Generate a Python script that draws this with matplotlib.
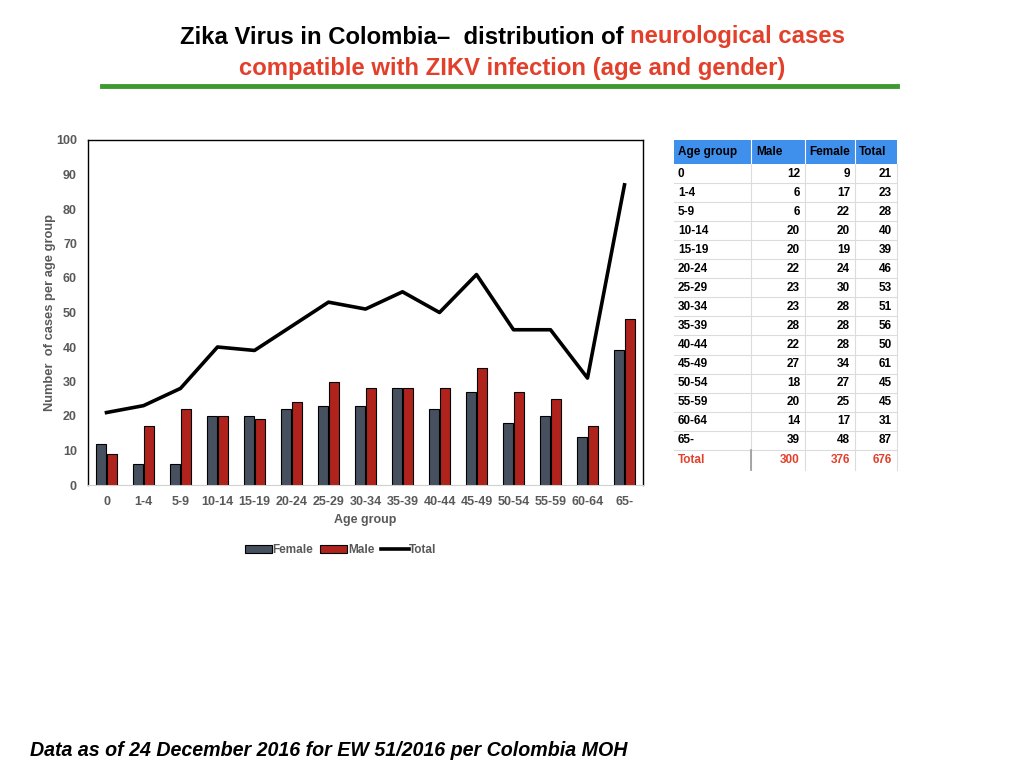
import matplotlib
matplotlib.use("Agg")
import matplotlib.pyplot as plt
from matplotlib.patches import Rectangle
from matplotlib.lines import Line2D
import numpy as np

# ---- data ----
age_groups = ["0", "1-4", "5-9", "10-14", "15-19", "20-24", "25-29", "30-34",
              "35-39", "40-44", "45-49", "50-54", "55-59", "60-64", "65-"]
male_col = [12, 6, 6, 20, 20, 22, 23, 23, 28, 22, 27, 18, 20, 14, 39]
female_col = [9, 17, 22, 20, 19, 24, 30, 28, 28, 28, 34, 27, 25, 17, 48]
total_col = [21, 23, 28, 40, 39, 46, 53, 51, 56, 50, 61, 45, 45, 31, 87]
col_totals = [300, 376, 676]
y_ticks = [0, 10, 20, 30, 40, 50, 60, 70, 80, 90, 100]

W, H = 1024, 768
fig = plt.figure(figsize=(W / 100, H / 100), dpi=100)
plt.rcParams['font.family'] = ['Liberation Sans', 'DejaVu Sans']

def fx(px):
    return px / W

def fy(py):
    return 1 - py / H

GRAY = "#595959"
RED_T = "#e2402b"

# ---- title ----
t1 = fig.text(fx(180), fy(37), "Zika Virus in Colombia\u2013  distribution of ", ha="left", va="center",
              fontsize=17.2, fontweight="bold", color="black")
fig.canvas.draw()
bb = t1.get_window_extent()
fig.text(bb.x1 / W, fy(37), "neurological cases", ha="left", va="center",
         fontsize=17.2, fontweight="bold", color=RED_T)
fig.text(fx(512), fy(68), "compatible with ZIKV infection (age and gender)", ha="center", va="center",
         fontsize=17.2, fontweight="bold", color=RED_T)
fig.add_artist(Line2D([fx(102), fx(897)], [fy(86), fy(86)], color="#3d9a2e", lw=3.5,
                      transform=fig.transFigure))

# ---- chart ----
ax = fig.add_axes([fx(88), fy(485), fx(643) - fx(88), fy(140) - fy(485)])
x = np.arange(len(age_groups))
bw = 0.26
b1 = ax.bar(x - 0.15, male_col, bw, color="#46505f", edgecolor="black", linewidth=0.8, label="Female")
b2 = ax.bar(x + 0.15, female_col, bw, color="#b0231d", edgecolor="black", linewidth=0.8, label="Male")
l1, = ax.plot(x, total_col, color="black", lw=2.6, label="Total")
ax.set_xlim(-0.5, len(age_groups) - 0.5)
ax.set_ylim(0, 100)
ax.set_yticks(y_ticks)
ax.set_xticks(x)
ax.set_xticklabels(age_groups)
ax.tick_params(axis="both", length=0, labelsize=9, colors=GRAY, pad=8)
for lab in ax.get_xticklabels() + ax.get_yticklabels():
    lab.set_fontweight("bold")
for s in ["left", "top", "right"]:
    ax.spines[s].set_color("black")
    ax.spines[s].set_linewidth(1)
ax.spines["bottom"].set_color("#d0d0d0")
ax.set_xlabel("Age group", fontsize=9, fontweight="bold", color=GRAY, labelpad=4)
ax.set_ylabel("Number  of cases per age group", fontsize=9.3, fontweight="bold", color=GRAY, labelpad=0)
leg = ax.legend([b1, b2, l1], ["Female", "Male", "Total"], loc="upper center",
                bbox_to_anchor=(0.455, -0.14), ncol=3, frameon=False,
                fontsize=8.5, handlelength=2.3, handletextpad=0.05, columnspacing=0.6)
for t in leg.get_texts():
    t.set_color(GRAY)
    t.set_fontweight("bold")

# ---- table ----
col_edges = [674, 751, 805, 855, 897]
header_top, header_bot = 140, 164
row_h = 19.05
hdr = ["Age group", "Male", "Female", "Total"]
fig.add_artist(Rectangle((fx(674), fy(header_bot)), fx(897) - fx(674), fy(header_top) - fy(header_bot),
                         transform=fig.transFigure, facecolor="#3f8fec", edgecolor="none"))
fig.text(fx(678), fy(152), hdr[0], ha="left", va="center", fontsize=8.5, fontweight="bold", color="black")
fig.text(fx(756), fy(152), hdr[1], ha="left", va="center", fontsize=8.5, fontweight="bold", color="black")
fig.text(fx(809), fy(152), hdr[2], ha="left", va="center", fontsize=8.5, fontweight="bold", color="black")
fig.text(fx(859), fy(152), hdr[3], ha="left", va="center", fontsize=8.5, fontweight="bold", color="black")
for c in col_edges[1:-1]:
    fig.add_artist(Line2D([fx(c), fx(c)], [fy(header_top), fy(header_bot)], color="white", lw=0.8,
                          transform=fig.transFigure))
n = len(age_groups)
for i in range(n):
    top = header_bot + i * row_h
    yc = top + row_h / 2
    fig.text(fx(678), fy(yc), age_groups[i], ha="left", va="center", fontsize=8.5, fontweight="bold")
    fig.text(fx(800), fy(yc), str(male_col[i]), ha="right", va="center", fontsize=8.5, fontweight="bold")
    fig.text(fx(850), fy(yc), str(female_col[i]), ha="right", va="center", fontsize=8.5, fontweight="bold")
    fig.text(fx(892), fy(yc), str(total_col[i]), ha="right", va="center", fontsize=8.5, fontweight="bold")
    fig.add_artist(Line2D([fx(674), fx(897)], [fy(top + row_h), fy(top + row_h)], color="#dcdcdc", lw=0.8,
                          transform=fig.transFigure))
tbl_bottom = header_bot + n * row_h + 20
for c in col_edges[1:]:
    fig.add_artist(Line2D([fx(c), fx(c)], [fy(header_bot), fy(tbl_bottom)], color="#dcdcdc", lw=0.8,
                          transform=fig.transFigure))
fig.add_artist(Line2D([fx(751), fx(751)], [fy(header_bot + n * row_h), fy(tbl_bottom)], color="#999999",
                      lw=1.2, transform=fig.transFigure))
yc = header_bot + n * row_h + 10
fig.text(fx(678), fy(yc), "Total", ha="left", va="center", fontsize=8.5, fontweight="bold", color=RED_T)
fig.text(fx(800), fy(yc), str(col_totals[0]), ha="right", va="center", fontsize=8.5, fontweight="bold", color=RED_T)
fig.text(fx(850), fy(yc), str(col_totals[1]), ha="right", va="center", fontsize=8.5, fontweight="bold", color=RED_T)
fig.text(fx(892), fy(yc), str(col_totals[2]), ha="right", va="center", fontsize=8.5, fontweight="bold", color=RED_T)

# ---- footer ----
fig.text(fx(30), fy(750), "Data as of 24 December 2016 for EW 51/2016 per Colombia MOH", ha="left", va="center",
         fontsize=14.1, fontweight="bold", fontstyle="italic", color="black")

fig.savefig("out.png", dpi=100, facecolor="white")
